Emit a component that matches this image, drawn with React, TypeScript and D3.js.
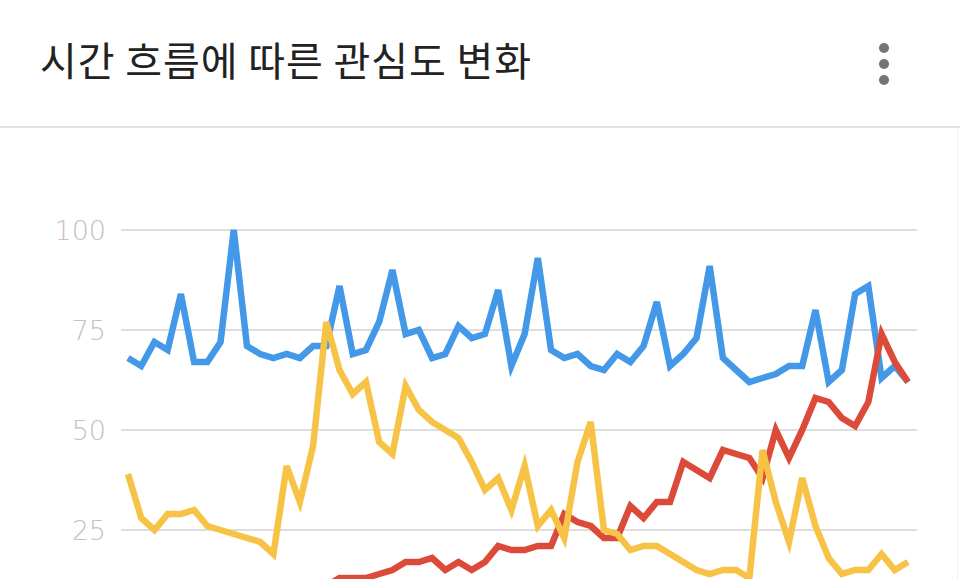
import React from "react";
import * as d3 from "d3";

const TITLE = "시간 흐름에 따른 관심도 변화";
const Y_TICKS = [25, 50, 75, 100];

const blueSeries = [68,66,72,70,84,67,67,72,100,71, 69,68,69,68,71,71,86,69,70,77, 90,74,75,68,69,76,73,74,85,66, 74,93,70,68,69,66,65,69,67,71, 82,66,69,73,91,68,65,62,63,64, 66,66,80,62,65,84,86,63,66,62];
const redSeries = [7,6,7,7,8,7,8,8,9,8, 9,9,10,10,11,11,13,13,13,14, 15,17,17,18,15,17,15,17,21,20, 20,21,21,29,27,26,23,23,31,28, 32,32,42,40,38,45,44,43,38,50, 43,50,58,57,53,51,57,74,67,62];
const yellowSeries = [39,28,25,29,29,30,26,25,24,23, 22,19,41,32,46,77,65,59,62,47, 44,61,55,52,50,48,42,35,38,30, 41,26,30,23,42,52,25,24,20,21, 21,19,17,15,14,15,15,13,45,32, 22,38,26,18,14,15,15,19,15,17];

const SERIES = [
  { name: "blue", values: blueSeries, color: "#4498e8" },
  { name: "red", values: redSeries, color: "#dc4a3a" },
  { name: "yellow", values: yellowSeries, color: "#f6c346" },
];

export default function App() {
  const W = 960, H = 579;
  const n = blueSeries.length;
  const x = d3.scaleLinear().domain([0, n - 1]).range([128, 908]);
  const y = d3.scaleLinear().domain([0, 100]).range([630, 230]);
  const line = d3.line<number>().x((_, i) => x(i)).y((d) => y(d)).curve(d3.curveLinear);

  return (
    <svg width={W} height={H} style={{ position: "fixed", left: 0, top: 0, background: "#fff" }}>
      <rect x={0} y={0} width={W} height={H} fill="#ffffff" />
      <text x={40} y={76} fontFamily="'Noto Sans CJK KR', 'Noto Sans', sans-serif" fontSize={40} letterSpacing={0.9} fill="#222222">
        {TITLE}
      </text>
      {[48, 64, 80].map((cy) => (
        <circle key={cy} cx={884} cy={cy} r={5} fill="#757575" />
      ))}
      <rect x={0} y={126} width={W} height={2} fill="#e2e2e2" />
      <line x1={957.5} x2={957.5} y1={128} y2={H} stroke="#f0f0f0" strokeWidth={1} />
      {Y_TICKS.map((t) => (
        <g key={t}>
          <line x1={121} x2={917} y1={y(t)} y2={y(t)} stroke="#dedede" strokeWidth={2} />
          <text x={106} y={y(t)} dy="0.36em" textAnchor="end" fontFamily="'DejaVu Sans', sans-serif" fontWeight={200} fontSize={27} fill="#c2c2c2">
            {t}
          </text>
        </g>
      ))}
      {SERIES.map((s) => (
        <path key={s.name} d={line(s.values) || ""} fill="none" stroke={s.color} strokeWidth={6.5} strokeLinejoin="miter" strokeLinecap="butt" />
      ))}
    </svg>
  );
}
